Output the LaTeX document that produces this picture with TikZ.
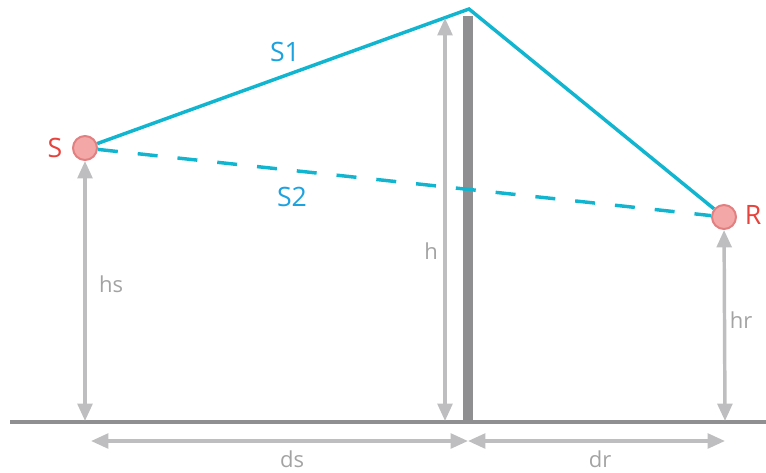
\documentclass[tikz,border=0pt]{standalone}
\usepackage{fontspec}
\setmainfont{Open Sans}
\usepackage{tikz}
\usetikzlibrary{arrows.meta,positioning,calc}
\definecolor{RayCyan}{HTML}{12B5CF}
\definecolor{RayText}{HTML}{1DA2E0}
\definecolor{PointRed}{HTML}{E8423C}
\definecolor{PointFill}{HTML}{F4A7A7}
\definecolor{PointRim}{HTML}{E27F80}
\definecolor{WallGray}{HTML}{8F8F92}
\definecolor{DimGray}{HTML}{BEBEC0}
\definecolor{LabelGray}{HTML}{A3A3A3}

\begin{document}
\begin{tikzpicture}[
    x=0.75pt, y=-0.75pt,
    point/.style={circle, draw=PointRim, line width=1.5pt, fill=PointFill, minimum size=18pt, inner sep=0pt},
    ray/.style={draw=RayCyan, line width=2.6pt},
    raylabel/.style={text=RayText, font=\fontsize{20}{24}\selectfont},
    ptlabel/.style={text=PointRed, font=\fontsize{20}{24}\selectfont},
    dim/.style={{Triangle[length=13pt,width=11pt]}-{Triangle[length=13pt,width=11pt]}, draw=DimGray, line width=2.6pt},
    dimlabel/.style={text=LabelGray, font=\fontsize{16.5}{20}\selectfont},
    wall/.style={fill=WallGray, draw=none}
]
\useasboundingbox (0,0) rectangle (766,472);

% ground and barrier
\draw[WallGray, line width=2.6pt] (10,422) -- (766,422);
\fill[wall] (463,16) rectangle (473,423);
\coordinate (top) at (469,9);

% source and receiver
\node[point] (s) at (85,148) {};
\node[point] (r) at (724,217) {};
\node[ptlabel] (slab) at (55,148) {S};
\node[ptlabel] (rlab) at (753,215) {R};

% rays
\draw[ray, dash pattern=on 15pt off 15pt] (s) -- (r);
\draw[ray, line join=miter] (s) -- (top) -- (r);
\node[raylabel] (s1) at (285,52) {S1};
\node[raylabel] (s2) at (292,197) {S2};

% heights
\coordinate (hs0) at (85,421);
\coordinate (h1) at (445,18);
\coordinate (h0) at (445,421);
\coordinate (hr0) at (725,421);
\draw[dim] (s) -- (hs0);
\draw[dim] (h1) -- (h0);
\draw[dim] (r) -- (hr0);
\node[dimlabel] (hs) at (111,284) {hs};
\node[dimlabel] (h) at (431,251) {h};
\node[dimlabel] (hr) at (741,320) {hr};

% distances
\coordinate (ds0) at (91,441);
\coordinate (mid) at (468,441);
\coordinate (dr1) at (725,441);
\draw[dim] (ds0) -- (mid);
\draw[dim] (mid) -- (dr1);
\node[dimlabel] (ds) at (292,459) {ds};
\node[dimlabel] (dr) at (600,459) {dr};
\end{tikzpicture}
\end{document}
